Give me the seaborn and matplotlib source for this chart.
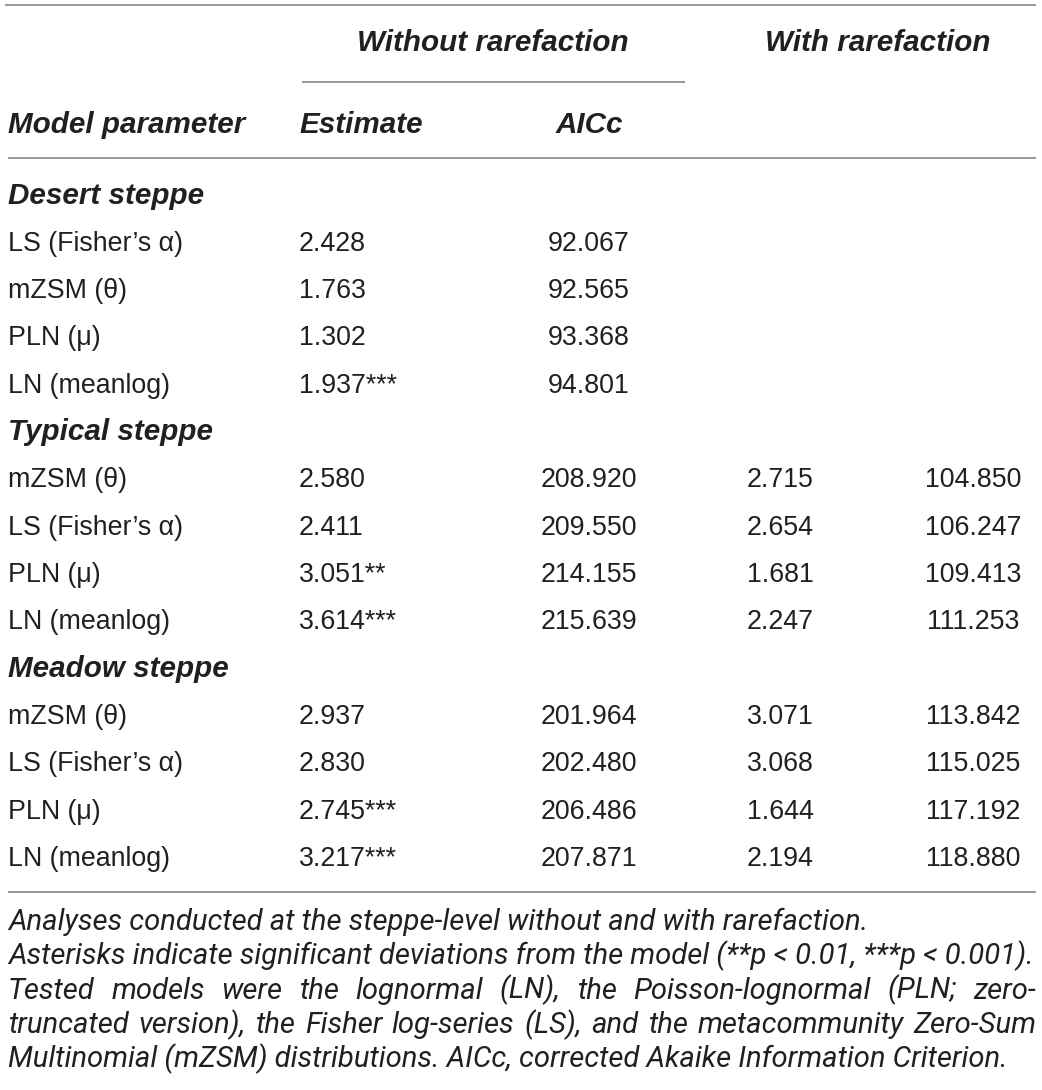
import numpy as np
import pandas as pd
import matplotlib
matplotlib.use("Agg")
import matplotlib.pyplot as plt
import seaborn as sns
from matplotlib import font_manager

# Table contents
groups = ["Desert steppe", "Typical steppe", "Meadow steppe"]

desert_params = ["LS (Fisher\u2019s \u03b1)", "mZSM (\u03b8)", "PLN (\u03bc)", "LN (meanlog)"]
desert_est = ["2.428", "1.763", "1.302", "1.937"]
desert_stars = ["", "", "", "***"]
desert_aicc = ["92.067", "92.565", "93.368", "94.801"]
desert_rare_est = ["", "", "", ""]
desert_rare_aicc = ["", "", "", ""]

typical_params = ["mZSM (\u03b8)", "LS (Fisher\u2019s \u03b1)", "PLN (\u03bc)", "LN (meanlog)"]
typical_est = ["2.580", "2.411", "3.051", "3.614"]
typical_stars = ["", "", "**", "***"]
typical_aicc = ["208.920", "209.550", "214.155", "215.639"]
typical_rare_est = ["2.715", "2.654", "1.681", "2.247"]
typical_rare_aicc = ["104.850", "106.247", "109.413", "111.253"]

meadow_params = ["mZSM (\u03b8)", "LS (Fisher\u2019s \u03b1)", "PLN (\u03bc)", "LN (meanlog)"]
meadow_est = ["2.937", "2.830", "2.745", "3.217"]
meadow_stars = ["", "", "***", "***"]
meadow_aicc = ["201.964", "202.480", "206.486", "207.871"]
meadow_rare_est = ["3.071", "3.068", "1.644", "2.194"]
meadow_rare_aicc = ["113.842", "115.025", "117.192", "118.880"]

footnote_lines = [
    "Analyses conducted at the steppe-level without and with rarefaction.",
    "Asterisks indicate significant deviations from the model (**p < 0.01, ***p < 0.001).",
    "Tested models were the lognormal (LN), the Poisson-lognormal (PLN; zero-",
    "truncated version), the Fisher log-series (LS), and the metacommunity Zero-Sum",
    "Multinomial (mZSM) distributions. AICc, corrected Akaike Information Criterion.",
]
footnote_justify = [False, False, True, True, False]

sns.set_theme(style="white")
plt.rcParams['font.family'] = ['Liberation Sans', 'DejaVu Sans']

TXT = "#231f20"
RULE = "#8f8f8f"


def italic_available(name):
    for f in font_manager.fontManager.ttflist:
        if f.name == name and f.style in ("italic", "oblique"):
            return True
    return False


note_family = ['Roboto', 'DejaVu Sans'] if italic_available('Roboto') \
    else ['Liberation Sans', 'DejaVu Sans']

# assemble rows into one frame
blocks = [
    (desert_params, desert_est, desert_stars, desert_aicc, desert_rare_est, desert_rare_aicc),
    (typical_params, typical_est, typical_stars, typical_aicc, typical_rare_est, typical_rare_aicc),
    (meadow_params, meadow_est, meadow_stars, meadow_aicc, meadow_rare_est, meadow_rare_aicc),
]
records = []
for g, blk in zip(groups, blocks):
    records.append(dict(kind="group", label=g, est="", aicc="", r_est="", r_aicc=""))
    for p, e, s, a, re_, ra in zip(*blk):
        records.append(dict(kind="row", label=p, est=e + s, aicc=a, r_est=re_, r_aicc=ra))
df = pd.DataFrame(records)

fig = plt.figure(figsize=(10.42, 10.90), dpi=100)
ax = fig.add_axes([0, 0, 1, 1])
ax.set_xlim(0, 1042)
ax.set_ylim(1090, 0)
ax.axis('off')
renderer = fig.canvas.get_renderer()

LEFT, RIGHT = 8, 1036
X_EST, X_AICC, X_REST, X_RAICC = 299, 589, 780, 973
BODY = 19.3
BOLD = 21.3

# rules
ax.hlines(5, LEFT - 3, RIGHT, color=RULE, lw=1.3)
ax.hlines(82, 302, 685, color=RULE, lw=1.3)
ax.hlines(158, LEFT, RIGHT, color=RULE, lw=1.3)
ax.hlines(892, LEFT, RIGHT, color=RULE, lw=1.3)

hdr = dict(fontsize=BOLD, fontweight='bold', fontstyle='italic', color=TXT, va='baseline')
ax.text(493, 51, "Without rarefaction", ha='center', **hdr)
ax.text(878, 51, "With rarefaction", ha='center', **hdr)
ax.text(LEFT, 133, "Model parameter", ha='left', **hdr)
ax.text(X_EST, 133, "Estimate", ha='left', **hdr)
ax.text(X_AICC, 133, "AICc", ha='center', **hdr)

body = dict(fontsize=BODY, color=TXT, va='baseline')
for i, r in df.iterrows():
    yb = 194 + i * 47.33 + 9.5
    if r['kind'] == "group":
        ax.text(LEFT, yb, r['label'], ha='left', **hdr)
        continue
    ax.text(LEFT, yb, r['label'], ha='left', **body)
    ax.text(X_EST, yb, r['est'], ha='left', **body)
    ax.text(X_AICC, yb, r['aicc'], ha='center', **body)
    if r['r_est']:
        ax.text(X_REST, yb, r['r_est'], ha='center', **body)
        ax.text(X_RAICC, yb, r['r_aicc'], ha='center', **body)

# footnote: fit size so the first line spans its measured width
note_base = dict(fontstyle='italic', fontweight='normal', family=note_family)
probe = ax.text(0, 0, footnote_lines[0], fontsize=10, **note_base)
note_size = 10 * 856 / probe.get_window_extent(renderer).width
probe.remove()
note = dict(fontsize=note_size, color=TXT, va='baseline', **note_base)

for k, (line, just) in enumerate(zip(footnote_lines, footnote_justify)):
    yb = 930 + k * 34.3
    if not just:
        ax.text(LEFT, yb, line, ha='left', **note)
        continue
    words = line.split(" ")
    objs = [ax.text(0, yb, w, ha='left', **note) for w in words]
    widths = [o.get_window_extent(renderer).width for o in objs]
    gap = (RIGHT - LEFT - sum(widths)) / (len(words) - 1)
    x = LEFT
    for o, w in zip(objs, widths):
        o.set_x(x)
        x += w + gap

fig.savefig("out.png", dpi=100, facecolor="white")
